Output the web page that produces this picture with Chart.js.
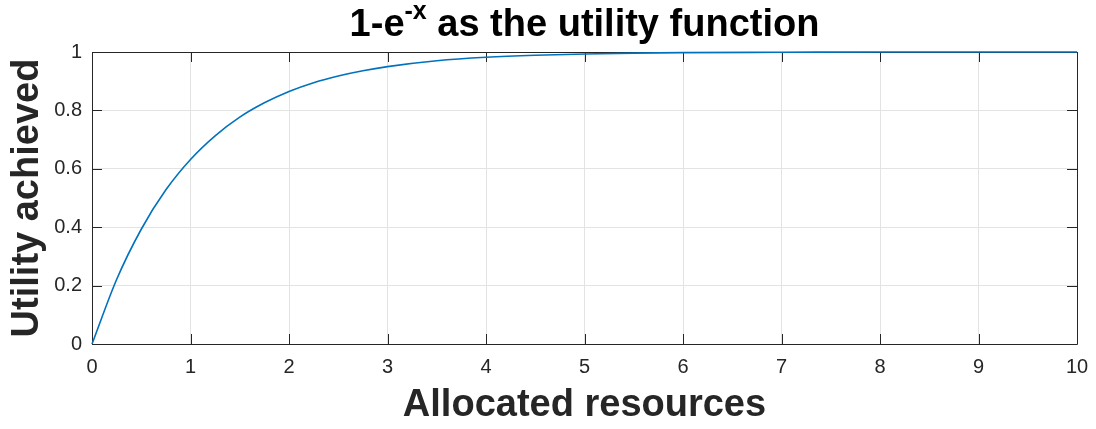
<!DOCTYPE html>
<html>
<head>
<meta charset="utf-8">
<script src="https://cdn.jsdelivr.net/npm/chart.js@4.4.0/dist/chart.umd.min.js"></script>
<style>
  html, body { margin: 0; padding: 0; background: #ffffff; }
  #wrap { width: 1096px; height: 429px; position: relative; }
</style>
</head>
<body>
<div id="wrap"><canvas id="chart" width="1096" height="429"></canvas></div>
<script>
// Allocated resources (x) and the utility achieved at each point (y)
const resources = [0, 0.25, 0.5, 0.75, 1, 1.25, 1.5, 1.75, 2, 2.25, 2.5, 2.75, 3, 3.5, 4, 4.5, 5, 5.5, 6, 7, 8, 9, 10];
const utility   = [0, 0.221, 0.393, 0.528, 0.632, 0.713, 0.777, 0.826, 0.865, 0.895, 0.918, 0.936, 0.950, 0.970, 0.982, 0.989, 0.993, 0.996, 0.998, 0.999, 1.0, 1.0, 1.0];
const xTicks = [0, 1, 2, 3, 4, 5, 6, 7, 8, 9, 10];
const yTicks = [0, 0.2, 0.4, 0.6, 0.8, 1];
const yTickLabels = ['0', '0.2', '0.4', '0.6', '0.8', '1'];

const titleMain = '1-e';
const titleSup = '-x';
const titleRest = ' as the utility function';
const xTitle = 'Allocated resources';
const yTitle = 'Utility achieved';

const AXIS_COLOR = '#262626';
const GRID_COLOR = '#e3e3e3';
const LINE_COLOR = '#0072BD';
const FONT = '"Liberation Sans", Arial, Helvetica, sans-serif';

// Box around the plot area plus inward tick marks on all four sides
const boxPlugin = {
  id: 'boxTicks',
  beforeDatasetsDraw(chart) {
    const { ctx, chartArea: a, scales: { x, y } } = chart;
    const len = 10;
    ctx.save();
    ctx.strokeStyle = AXIS_COLOR;
    ctx.lineWidth = 1;
    ctx.beginPath();
    xTicks.forEach(v => {
      const px = Math.round(x.getPixelForValue(v)) + 0.5;
      ctx.moveTo(px, a.bottom); ctx.lineTo(px, a.bottom - len);
      ctx.moveTo(px, a.top); ctx.lineTo(px, a.top + len);
    });
    yTicks.forEach(v => {
      const py = Math.round(y.getPixelForValue(v)) + 0.5;
      ctx.moveTo(a.left, py); ctx.lineTo(a.left + len, py);
      ctx.moveTo(a.right, py); ctx.lineTo(a.right - len, py);
    });
    ctx.stroke();
    ctx.beginPath();
    ctx.rect(Math.round(a.left) + 0.5, Math.round(a.top) + 0.5,
             Math.round(a.right - a.left), Math.round(a.bottom - a.top));
    ctx.stroke();
    ctx.restore();
  }
};

// Title with a superscript exponent
const titlePlugin = {
  id: 'supTitle',
  afterDraw(chart) {
    const { ctx, chartArea: a } = chart;
    const big = 'bold 38px ' + FONT;
    const small = 'bold 25px ' + FONT;
    ctx.save();
    ctx.fillStyle = '#000000';
    ctx.textBaseline = 'alphabetic';
    ctx.textAlign = 'left';
    ctx.font = big;
    const w1 = ctx.measureText(titleMain).width;
    const w3 = ctx.measureText(titleRest).width;
    ctx.font = small;
    const w2 = ctx.measureText(titleSup).width;
    const total = w1 + w2 + w3;
    let cx = (a.left + a.right) / 2 - total / 2;
    const base = 36;
    ctx.font = big;
    ctx.fillText(titleMain, cx, base);
    cx += w1;
    ctx.font = small;
    ctx.fillText(titleSup, cx, base - 17);
    cx += w2;
    ctx.font = big;
    ctx.fillText(titleRest, cx, base);
    ctx.restore();
  }
};

new Chart(document.getElementById('chart'), {
  type: 'line',
  data: {
    datasets: [{
      data: resources.map((r, i) => ({ x: r, y: utility[i] })),
      borderColor: LINE_COLOR,
      borderWidth: 1.6,
      pointRadius: 0,
      fill: false,
      cubicInterpolationMode: 'monotone',
      clip: 4
    }]
  },
  options: {
    responsive: false,
    animation: false,
    devicePixelRatio: 1,
    layout: { padding: { top: 52, right: 19, left: 0, bottom: 0 } },
    plugins: { legend: { display: false }, tooltip: { enabled: false }, title: { display: false } },
    scales: {
      x: {
        type: 'linear',
        min: 0, max: 10,
        afterBuildTicks(scale) { scale.ticks = xTicks.map(v => ({ value: v })); },
        afterFit(scale) { scale.height = 85; scale.paddingLeft = 0; scale.paddingRight = 0; },
        grid: { color: GRID_COLOR, drawTicks: false },
        border: { display: false },
        ticks: { color: AXIS_COLOR, font: { family: FONT, size: 20 }, padding: 11, maxRotation: 0 },
        title: { display: true, text: xTitle, color: AXIS_COLOR, font: { family: FONT, size: 38, weight: 'bold' }, padding: { top: 0, bottom: 1 } }
      },
      y: {
        type: 'linear',
        min: 0, max: 1,
        afterBuildTicks(scale) { scale.ticks = yTicks.map(v => ({ value: v })); },
        afterFit(scale) { scale.width = 92; scale.paddingTop = 0; scale.paddingBottom = 0; },
        grid: { color: GRID_COLOR, drawTicks: false },
        border: { display: false },
        ticks: {
          color: AXIS_COLOR, font: { family: FONT, size: 20 }, padding: 10,
          callback: (v) => yTickLabels[yTicks.indexOf(v)] ?? String(v)
        },
        title: { display: true, text: yTitle, color: AXIS_COLOR, font: { family: FONT, size: 38, weight: 'bold' }, padding: { top: 5, bottom: 0 } }
      }
    }
  },
  plugins: [boxPlugin, titlePlugin]
});
</script>
</body>
</html>
